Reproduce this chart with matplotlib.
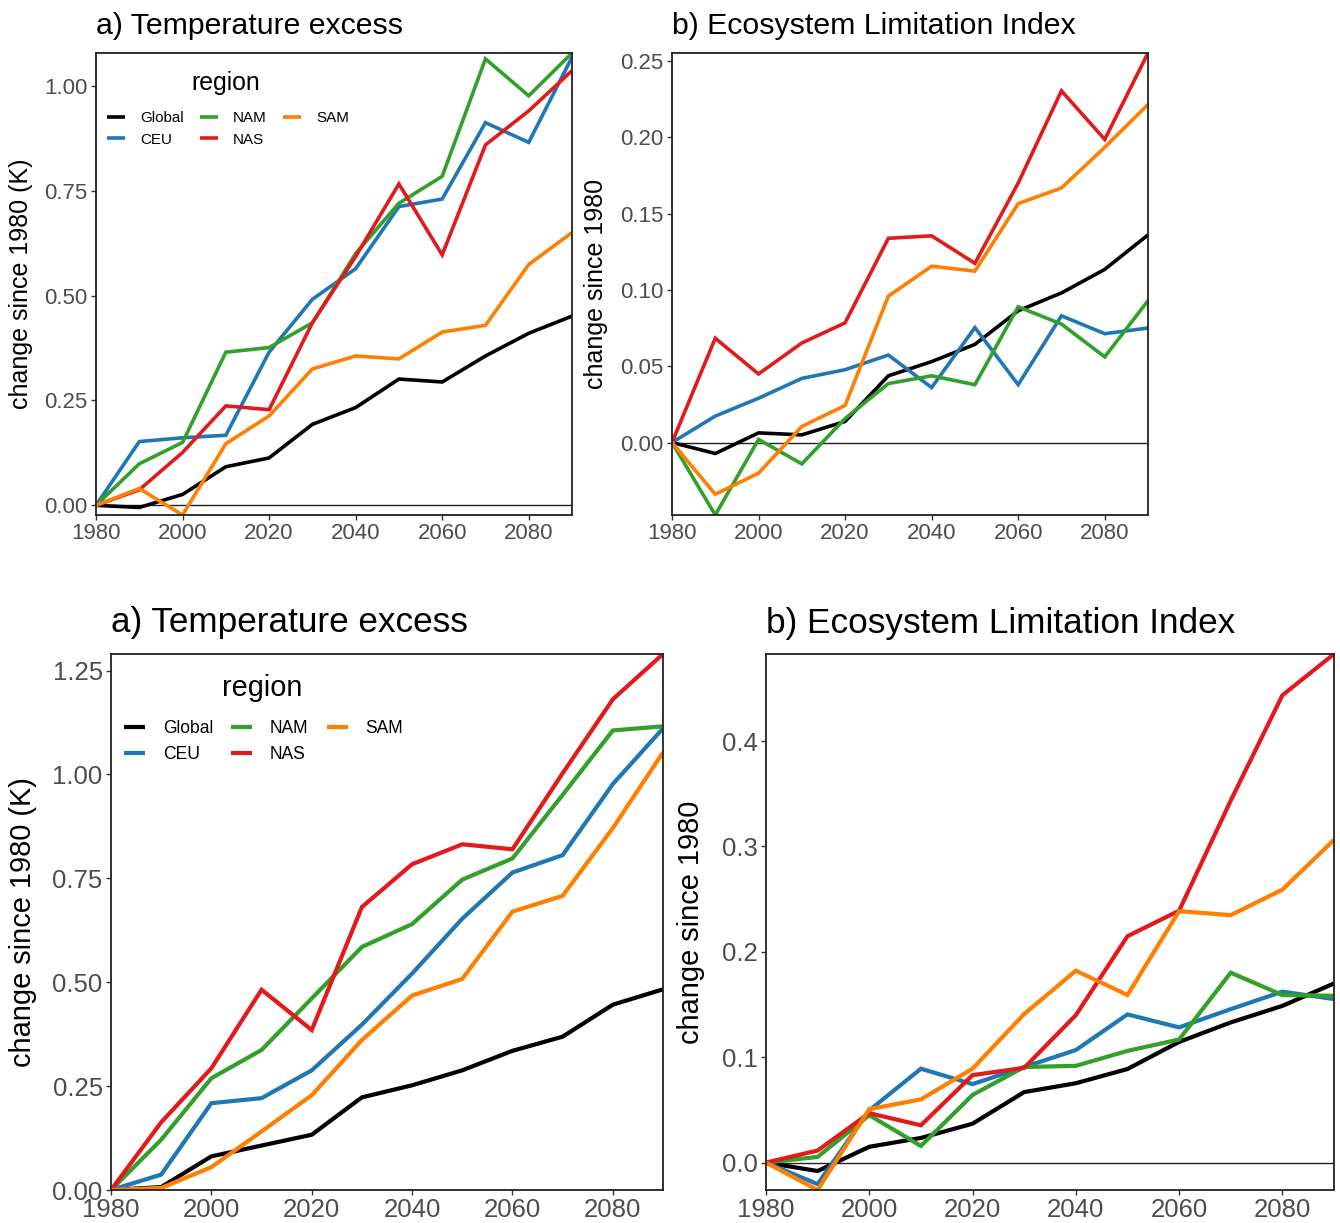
import matplotlib
matplotlib.use('Agg')
import matplotlib.pyplot as plt
import matplotlib.ticker as mticker
import numpy as np

plt.rcParams['font.family'] = ['Liberation Sans', 'DejaVu Sans']

years = [1980, 1990, 2000, 2010, 2020, 2030, 2040, 2050, 2060, 2070, 2080, 2090]
regions = ['Global', 'CEU', 'NAM', 'NAS', 'SAM']
colors = {'Global': '#000000', 'CEU': '#1F78B4', 'NAM': '#33A02C',
          'NAS': '#E31A1C', 'SAM': '#FF7F00'}

# top figure, a) temperature excess (K)
top_temp = {
    'Global': [0, -0.005, 0.026, 0.092, 0.113, 0.193, 0.233, 0.301, 0.294, 0.356, 0.410, 0.451],
    'CEU':    [0, 0.152, 0.161, 0.167, 0.365, 0.491, 0.564, 0.712, 0.730, 0.912, 0.865, 1.068],
    'NAM':    [0, 0.099, 0.150, 0.365, 0.376, 0.435, 0.600, 0.720, 0.784, 1.064, 0.976, 1.078],
    'NAS':    [0, 0.037, 0.126, 0.237, 0.228, 0.435, 0.593, 0.766, 0.597, 0.859, 0.940, 1.036],
    'SAM':    [0, 0.040, -0.023, 0.147, 0.213, 0.325, 0.356, 0.349, 0.413, 0.429, 0.574, 0.650],
}

# top figure, b) ecosystem limitation index
top_eli = {
    'Global': [0, -0.0072, 0.0063, 0.005, 0.0138, 0.0437, 0.053, 0.0643, 0.0863, 0.098, 0.1134, 0.136],
    'CEU':    [0, 0.0173, 0.029, 0.042, 0.0477, 0.0573, 0.036, 0.0753, 0.0379, 0.083, 0.0713, 0.075],
    'NAM':    [0, -0.0475, 0.002, -0.014, 0.0157, 0.0386, 0.0437, 0.0379, 0.0889, 0.0776, 0.0561, 0.0929],
    'NAS':    [0, 0.0683, 0.0449, 0.0652, 0.0784, 0.1338, 0.1354, 0.1174, 0.170, 0.2304, 0.1986, 0.2552],
    'SAM':    [0, -0.0339, -0.0201, 0.0105, 0.0243, 0.0959, 0.1155, 0.1123, 0.1565, 0.1668, 0.1934, 0.2215],
}

# bottom figure, a) temperature excess (K)
bot_temp = {
    'Global': [0, 0.007, 0.081, 0.107, 0.133, 0.223, 0.252, 0.288, 0.335, 0.369, 0.446, 0.483],
    'CEU':    [0, 0.037, 0.209, 0.221, 0.288, 0.398, 0.521, 0.653, 0.764, 0.806, 0.977, 1.111],
    'NAM':    [0, 0.121, 0.269, 0.337, 0.461, 0.585, 0.640, 0.747, 0.798, 0.951, 1.106, 1.116],
    'NAS':    [0, 0.163, 0.293, 0.482, 0.385, 0.681, 0.784, 0.832, 0.820, 1.003, 1.181, 1.290],
    'SAM':    [0, 0.005, 0.055, 0.141, 0.228, 0.361, 0.468, 0.508, 0.670, 0.708, 0.871, 1.053],
}

# bottom figure, b) ecosystem limitation index
bot_eli = {
    'Global': [0, -0.008, 0.015, 0.0234, 0.0369, 0.0669, 0.0753, 0.0888, 0.1145, 0.133, 0.1487, 0.170],
    'CEU':    [0, -0.0204, 0.0496, 0.0891, 0.0745, 0.0907, 0.1068, 0.1406, 0.1283, 0.1456, 0.1622, 0.1552],
    'NAM':    [0, 0.0054, 0.045, 0.0158, 0.0642, 0.0907, 0.0918, 0.106, 0.1168, 0.1802, 0.159, 0.1583],
    'NAS':    [0, 0.0115, 0.0469, 0.0354, 0.083, 0.0899, 0.1399, 0.2148, 0.239, 0.3435, 0.4434, 0.4826],
    'SAM':    [0, -0.026, 0.0507, 0.060, 0.0891, 0.141, 0.1821, 0.159, 0.2386, 0.2348, 0.259, 0.3062],
}

W, H = 1340, 1223
fig = plt.figure(figsize=(W / 100, H / 100), dpi=100)


def make_axes(left, right, top, bottom):
    return fig.add_axes([left / W, 1 - bottom / H, (right - left) / W, (bottom - top) / H])


def draw_panel(ax, data, title, ylabel, yticks, yfmt, scale, label_x, title_pad, legend_at=None):
    for r in regions:
        ax.plot(years, data[r], color=colors[r], lw=2.6 * scale, label=r,
                solid_joinstyle='miter', solid_capstyle='butt')
    ax.axhline(0, color='#222222', lw=1.0, zorder=1)
    allv = np.concatenate([np.asarray(data[r]) for r in regions])
    ax.set_xlim(years[0], years[-1])
    ax.set_ylim(allv.min(), allv.max())
    ax.set_xticks(np.arange(1980, 2081, 20))
    ax.set_yticks(yticks)
    ax.yaxis.set_major_formatter(mticker.FormatStrFormatter(yfmt))
    ax.tick_params(colors='#333333', labelcolor='#4D4D4D', labelsize=16 * scale,
                   length=3.5, width=1.0, pad=2.5)
    for s in ax.spines.values():
        s.set_color('#222222')
        s.set_linewidth(1.3)
    ax.set_title(title, loc='left', fontsize=21.8 * scale, pad=title_pad)
    ax.set_ylabel(ylabel, fontsize=18 * scale)
    ax.yaxis.set_label_coords(label_x, 0.5)
    if legend_at is not None:
        (lx, ly), (tx, ty) = legend_at
        ax.legend(ncol=3, loc='center left', bbox_to_anchor=(lx, ly),
                  frameon=False, fontsize=10.9 * scale,
                  handlelength=1.2, handletextpad=1.0, columnspacing=1.05,
                  labelspacing=0.5, borderpad=0, borderaxespad=0)
        ax.text(tx, ty, 'region', transform=ax.transAxes, ha='center', va='center',
                fontsize=17.9 * scale)


ax1 = make_axes(96, 572, 53, 515)
draw_panel(ax1, top_temp, 'a) Temperature excess', 'change since 1980 (K)',
           [0, 0.25, 0.5, 0.75, 1.0], '%.2f', 1.0, -0.132, 14,
           legend_at=((0.023, 0.8355), (0.273, 0.935)))

ax2 = make_axes(672, 1148, 53, 515)
draw_panel(ax2, top_eli, 'b) Ecosystem Limitation Index', 'change since 1980',
           [0, 0.05, 0.10, 0.15, 0.20, 0.25], '%.2f', 1.0, -0.134, 14)

ax3 = make_axes(111, 663, 654, 1190)
draw_panel(ax3, bot_temp, 'a) Temperature excess', 'change since 1980 (K)',
           [0, 0.25, 0.5, 0.75, 1.0, 1.25], '%.2f', 1.16, -0.134, 16,
           legend_at=((0.0236, 0.8368), (0.2745, 0.9366)))

ax4 = make_axes(766, 1334, 654, 1190)
draw_panel(ax4, bot_eli, 'b) Ecosystem Limitation Index', 'change since 1980',
           [0, 0.1, 0.2, 0.3, 0.4], '%.1f', 1.16, -0.107, 15)

fig.savefig('out.png', dpi=100, facecolor='white')
plt.close(fig)
